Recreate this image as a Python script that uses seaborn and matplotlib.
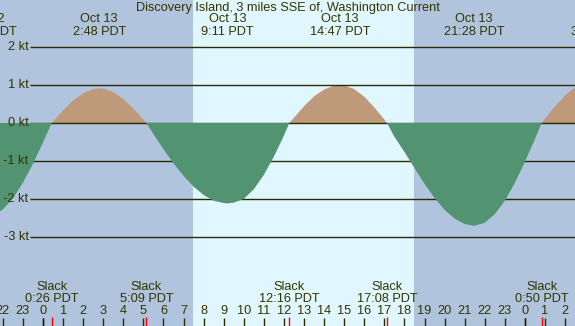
import numpy as np
import seaborn as sns
import matplotlib.pyplot as plt
import matplotlib.transforms as mtransforms

# Courant (kt), heures relatives au 13 oct 0:00 PDT
hours = [-2.5, -2.0, -1.5, -1.0, -0.5, 0.0, 0.433, 0.5, 1.0, 1.5, 2.0, 2.5,
         2.8, 3.0, 3.5, 4.0, 4.5, 5.0, 5.15, 5.5, 6.0, 6.5, 7.0, 7.5,
         8.0, 8.5, 9.0, 9.183, 9.5, 10.0, 10.5, 11.0, 11.5, 12.0, 12.267, 12.5,
         13.0, 13.5, 14.0, 14.5, 14.783, 15.0, 15.5, 16.0, 16.5, 17.0, 17.133, 17.5,
         18.0, 18.5, 19.0, 19.5, 20.0, 20.5, 21.0, 21.467, 22.0, 22.5, 23.0, 23.5,
         24.0, 24.5, 24.833, 25.0, 25.5, 26.0, 26.5, 27.0]
speeds = [-2.44, -2.27, -1.98, -1.57, -1.07, -0.51, 0.0, 0.04, 0.33, 0.59, 0.78, 0.89,
          0.91, 0.90, 0.81, 0.63, 0.38, 0.09, 0.0, -0.29, -0.69, -1.06, -1.39, -1.67,
          -1.89, -2.04, -2.10, -2.11, -2.09, -1.99, -1.74, -1.36, -0.88, -0.33, 0.0, 0.14,
          0.44, 0.70, 0.88, 0.98, 1.0, 0.99, 0.89, 0.69, 0.41, 0.09, 0.0, -0.36,
          -0.76, -1.18, -1.60, -1.97, -2.28, -2.51, -2.65, -2.70, -2.62, -2.39, -2.04, -1.57,
          -1.02, -0.42, 0.0, 0.11, 0.44, 0.72, 0.94, 1.07]

# Maxima (haut du graphique)
max_hours = [-2.84, 2.8, 9.183, 14.783, 21.467, 27.6]
max_dates = ['Oct 12', 'Oct 13', 'Oct 13', 'Oct 13', 'Oct 13', 'Oct 14']
max_times = ['21:10 PDT', '2:48 PDT', '9:11 PDT', '14:47 PDT', '21:28 PDT', '3:36 PDT']

# Étales (bas du graphique)
slack_hours = [0.433, 5.15, 12.267, 17.133, 24.833]
slack_times = ['0:26 PDT', '5:09 PDT', '12:16 PDT', '17:08 PDT', '0:50 PDT']

kt_levels = [2, 1, 0, -1, -2, -3]
tick_hours = list(range(-2, 27))
midnights = [0, 24]
sunrise, sunset = 7.47, 18.48

title = 'Discovery Island, 3 miles SSE of, Washington Current'

night = '#b0c4de'
day = '#e0f7ff'
flood = '#bf9a7a'
ebb = '#529471'
ink = '#333300'

W, H = 575, 326
x0, pxh = 43, 20.08     # pixel de minuit, pixels par heure
y0, pxk = 123, 38.1     # pixel de 0 kt, pixels par kt

sns.set_style('white')
plt.rcParams['font.family'] = ['Liberation Sans', 'DejaVu Sans']

fig = plt.figure(figsize=(W / 100, H / 100), dpi=100)
ax = fig.add_axes([0, 0, 1, 1])
ax.set_xlim(-x0 / pxh, (W - x0) / pxh)
ax.set_ylim((y0 - H) / pxk, y0 / pxk)
ax.axis('off')
ax.add_patch(plt.Rectangle((0, 0), 1, 1, transform=ax.transAxes, color=night, zorder=0))
ax.axvspan(sunrise, sunset, color=day, lw=0, zorder=0.5)

h = np.array(hours)
s = np.array(speeds)
ax.fill_between(h, s, 0, where=s >= 0, interpolate=True, color=flood, lw=0, zorder=1.5)
ax.fill_between(h, s, 0, where=s <= 0, interpolate=True, color=ebb, lw=0, zorder=3)

ax.hlines(kt_levels, (30 - x0) / pxh, (W - x0) / pxh, color='#2a2a00', lw=1, zorder=2)

fs = 9.2
blend = mtransforms.blended_transform_factory(ax.transData, fig.transFigure)
left = mtransforms.blended_transform_factory(fig.transFigure, ax.transData)
for k in kt_levels:
    ax.text(28.5 / W, k, f'{k} kt', transform=left,
            ha='right', va='center', fontsize=fs, color=ink, zorder=5)

fig.text(0.5, 1 - 8 / H, title, ha='center', va='center', fontsize=fs, color=ink)
for xh, d, t in zip(max_hours, max_dates, max_times):
    ax.text(xh, 1 - 19.5 / H, d, transform=blend, ha='center', va='center', fontsize=fs, color=ink)
    ax.text(xh, 1 - 32 / H, t, transform=blend, ha='center', va='center', fontsize=fs, color=ink)
for xh, t in zip(slack_hours, slack_times):
    ax.text(xh, 1 - 287 / H, 'Slack', transform=blend, ha='center', va='center', fontsize=fs, color=ink)
    ax.text(xh, 1 - 299.5 / H, t, transform=blend, ha='center', va='center', fontsize=fs, color=ink)
for th in tick_hours:
    ax.text(th, 1 - 311.5 / H, str(th % 24), transform=blend, ha='center', va='center', fontsize=fs, color=ink)

sns.rugplot(x=tick_hours, height=8.5 / H, color='#2a2a00', lw=1, ax=ax, expand_margins=False)
sns.rugplot(x=midnights, height=8.5 / H, color='#1a1a00', lw=3, ax=ax, expand_margins=False)
sns.rugplot(x=slack_hours, height=9.5 / H, color='#ff0000', lw=1, ax=ax, expand_margins=False)

fig.savefig('out.png', dpi=100)
